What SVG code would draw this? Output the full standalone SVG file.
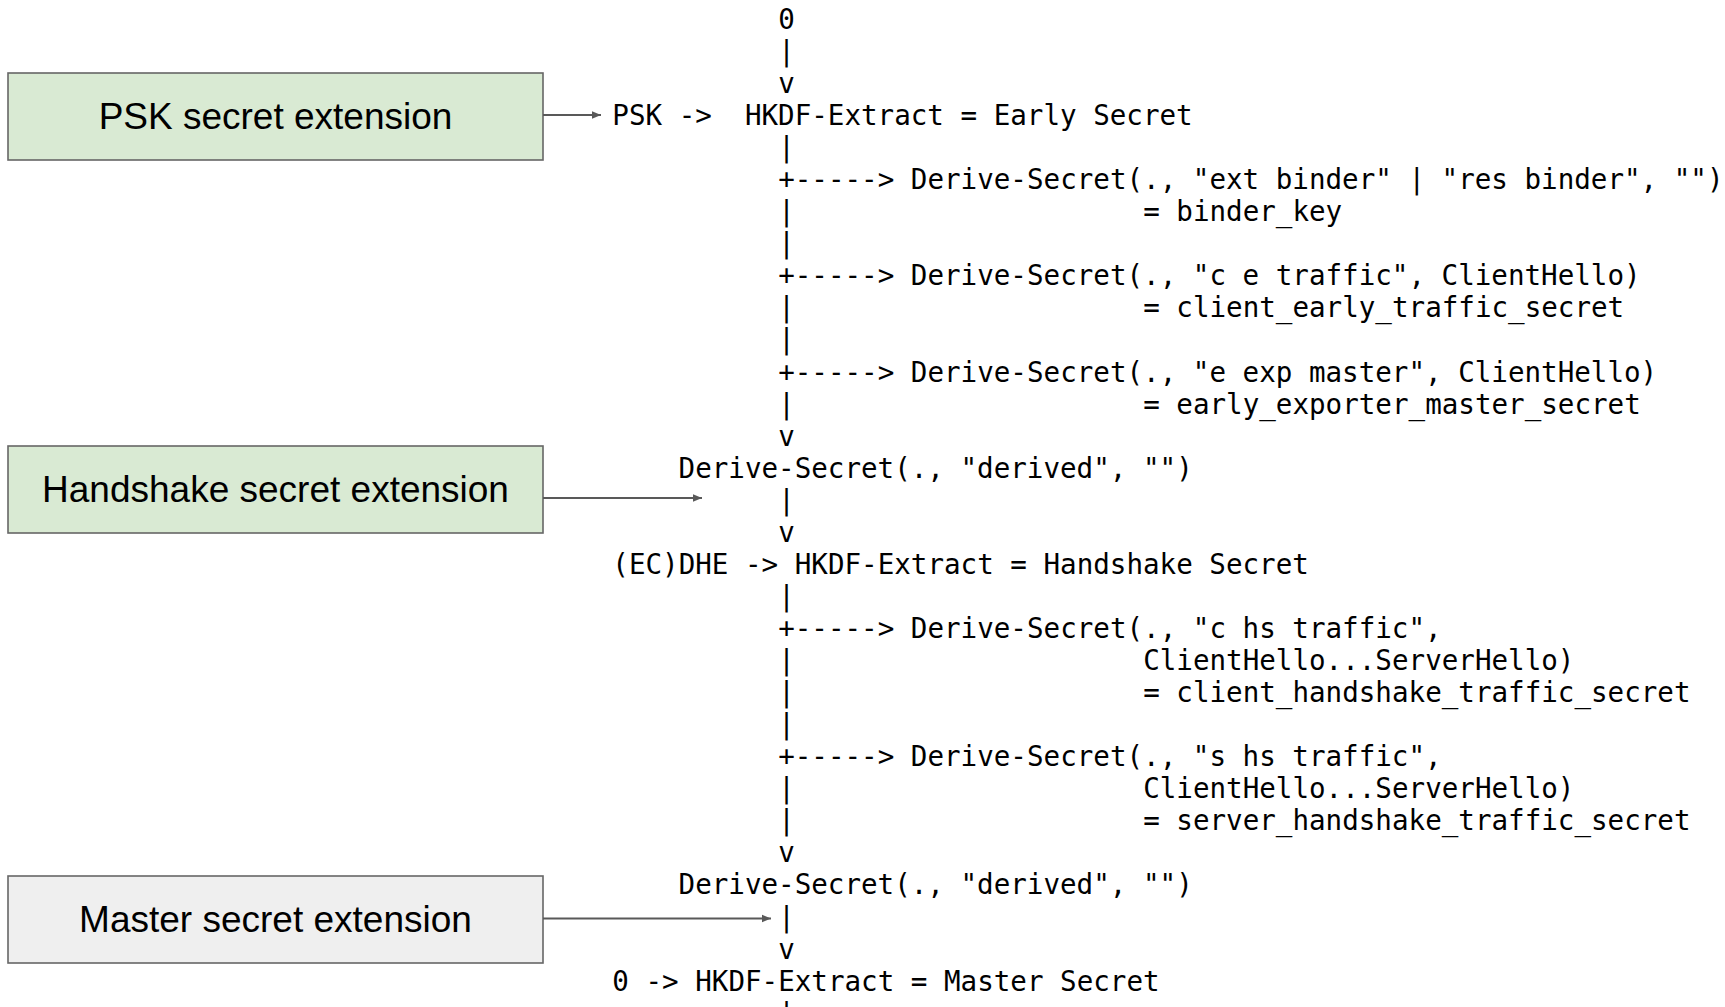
<svg xmlns="http://www.w3.org/2000/svg" width="1725" height="1007" viewBox="0 0 1725 1007">
<defs>
<style>
.m{font-family:"DejaVu Sans Mono",monospace;font-size:27.55px;fill:#000}
.box{stroke:#666;stroke-width:1.6}
.bl{font-family:"Liberation Sans",Arial,sans-serif;font-size:37px;fill:#000;text-anchor:middle}
.c{stroke:#595959;stroke-width:2;fill:none}
</style>
<marker id="ah" markerWidth="11" markerHeight="10" refX="10" refY="5" orient="auto" markerUnits="userSpaceOnUse">
<path d="M1,1.2 L10,5 L1,8.8 z" fill="#595959"/>
</marker>
</defs>
<rect width="1725" height="1007" fill="#fff"/>

<g id="psk-box">
<rect class="box" x="8" y="73" width="535" height="87" fill="#d9ead3"/>
<text class="bl" x="275.5" y="129">PSK secret extension</text>
</g>
<g id="handshake-box">
<rect class="box" x="8" y="446" width="535" height="87" fill="#d9ead3"/>
<text class="bl" x="275.5" y="502">Handshake secret extension</text>
</g>
<g id="master-box">
<rect class="box" x="8" y="876" width="535" height="87" fill="#efefef"/>
<text class="bl" x="275.5" y="932">Master secret extension</text>
</g>

<g id="key-schedule">
<text class="m" x="778.2" y="28.8">0</text>
<text class="m" x="778.2" y="60.9">|</text>
<text class="m" x="778.2" y="92.9">v</text>
<text class="m" x="612.3" y="125">PSK -&gt;</text>
<text class="m" x="744.9" y="125">HKDF-Extract = Early Secret</text>
<text class="m" x="778.2" y="157.1">|</text>
<text class="m" x="778.2" y="189.1">+-----&gt; Derive-Secret(., "ext binder" | "res binder", "")</text>
<text class="m" x="778.2" y="221.2">|</text>
<text class="m" x="1143.2" y="221.2">= binder_key</text>
<text class="m" x="778.2" y="253.2">|</text>
<text class="m" x="778.2" y="285.3">+-----&gt; Derive-Secret(., "c e traffic", ClientHello)</text>
<text class="m" x="778.2" y="317.4">|</text>
<text class="m" x="1143.2" y="317.4">= client_early_traffic_secret</text>
<text class="m" x="778.2" y="349.4">|</text>
<text class="m" x="778.2" y="381.5">+-----&gt; Derive-Secret(., "e exp master", ClientHello)</text>
<text class="m" x="778.2" y="413.5">|</text>
<text class="m" x="1143.2" y="413.5">= early_exporter_master_secret</text>
<text class="m" x="778.2" y="445.6">v</text>
<text class="m" x="678.6" y="477.6">Derive-Secret(., "derived", "")</text>
<text class="m" x="778.2" y="509.7">|</text>
<text class="m" x="778.2" y="541.8">v</text>
<text class="m" x="612.3" y="573.8">(EC)DHE -&gt; HKDF-Extract = Handshake Secret</text>
<text class="m" x="778.2" y="605.9">|</text>
<text class="m" x="778.2" y="637.9">+-----&gt; Derive-Secret(., "c hs traffic",</text>
<text class="m" x="778.2" y="670">|</text>
<text class="m" x="1143.2" y="670">ClientHello...ServerHello)</text>
<text class="m" x="778.2" y="702.1">|</text>
<text class="m" x="1143.2" y="702.1">= client_handshake_traffic_secret</text>
<text class="m" x="778.2" y="734.1">|</text>
<text class="m" x="778.2" y="766.2">+-----&gt; Derive-Secret(., "s hs traffic",</text>
<text class="m" x="778.2" y="798.2">|</text>
<text class="m" x="1143.2" y="798.2">ClientHello...ServerHello)</text>
<text class="m" x="778.2" y="830.3">|</text>
<text class="m" x="1143.2" y="830.3">= server_handshake_traffic_secret</text>
<text class="m" x="778.2" y="862.4">v</text>
<text class="m" x="678.6" y="894.4">Derive-Secret(., "derived", "")</text>
<text class="m" x="778.2" y="926.5">|</text>
<text class="m" x="778.2" y="958.5">v</text>
<text class="m" x="612.3" y="990.6">0 -&gt; HKDF-Extract = Master Secret</text>
<text class="m" x="778.2" y="1022.7">|</text>
</g>

<g id="connectors">
<line class="c" x1="543" y1="115" x2="601" y2="115" marker-end="url(#ah)"/>
<line class="c" x1="543" y1="498" x2="702" y2="498" marker-end="url(#ah)"/>
<line class="c" x1="543" y1="918.5" x2="771" y2="918.5" marker-end="url(#ah)"/>
</g>
</svg>
